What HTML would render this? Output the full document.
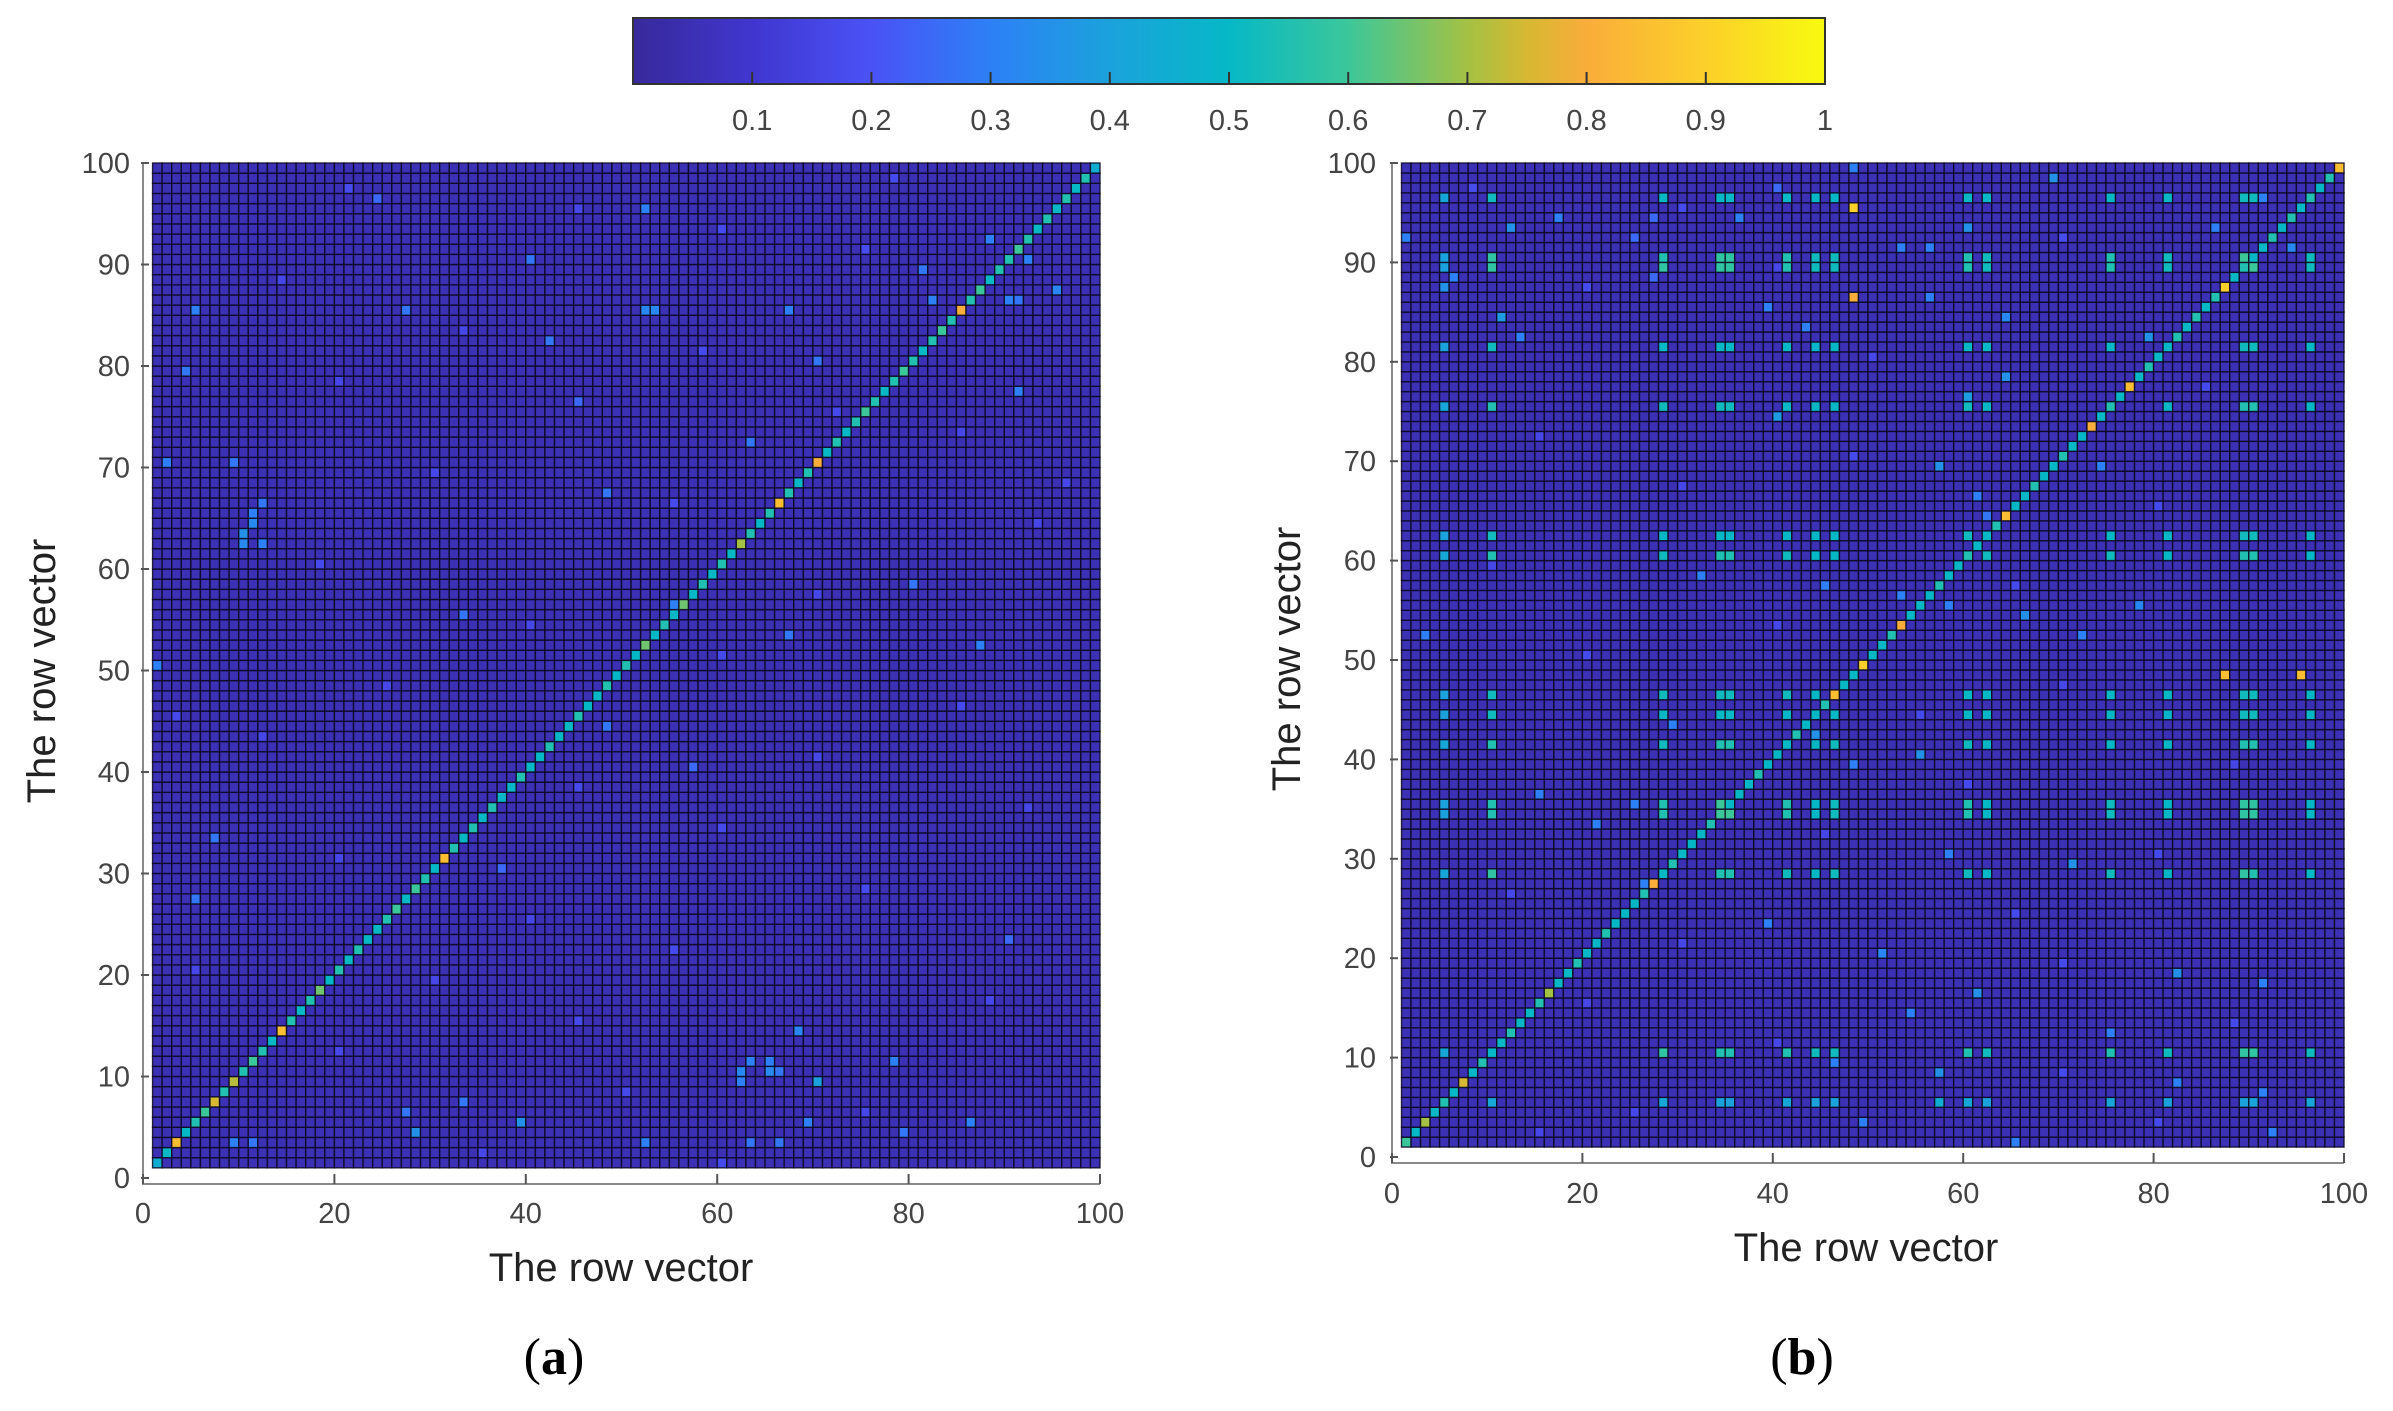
<!DOCTYPE html>
<html><head><meta charset="utf-8"><style>
html,body{margin:0;padding:0;background:#fff;}
svg{display:block;}
text{font-family:"Liberation Sans",Arial,sans-serif;}
</style></head><body>
<svg id="fig" width="2393" height="1411" viewBox="0 0 2393 1411" xmlns="http://www.w3.org/2000/svg">
<defs>
<linearGradient id="parula" x1="0" x2="1" y1="0" y2="0">
<stop offset="0" stop-color="#38299a"/><stop offset="0.1" stop-color="#4036cf"/><stop offset="0.2" stop-color="#4a52f5"/>
<stop offset="0.3" stop-color="#2d80f6"/><stop offset="0.4" stop-color="#1ba2dc"/><stop offset="0.5" stop-color="#06b8c6"/>
<stop offset="0.6" stop-color="#3cc79a"/><stop offset="0.7" stop-color="#a4c144"/><stop offset="0.75" stop-color="#d6b832"/>
<stop offset="0.8" stop-color="#f9ad3a"/><stop offset="0.9" stop-color="#fcd02a"/><stop offset="1" stop-color="#f8fa10"/>
</linearGradient>
</defs>
<g id="colorbar">
<rect x="633" y="18" width="1192" height="66" fill="url(#parula)" stroke="#333" stroke-width="2"/>
</g>
<g id="panelA"></g>
<g id="panelB"></g>
<text x="621" y="1281" font-size="40" fill="#222" text-anchor="middle">The row vector</text>
<text transform="translate(55,671) rotate(-90)" font-size="40" fill="#222" text-anchor="middle">The row vector</text>
<text x="1866" y="1261" font-size="40" fill="#222" text-anchor="middle">The row vector</text>
<text transform="translate(1300,659) rotate(-90)" font-size="40" fill="#222" text-anchor="middle">The row vector</text>
<text x="554" y="1374" font-size="52" fill="#000" text-anchor="middle" style="font-family:'Liberation Serif',serif">(<tspan font-weight="bold">a</tspan>)</text>
<text x="1802" y="1374" font-size="52" fill="#000" text-anchor="middle" style="font-family:'Liberation Serif',serif">(<tspan font-weight="bold">b</tspan>)</text>
</svg>
<script>
const cbTicks = [0.1,0.2,0.3,0.4,0.5,0.6,0.7,0.8,0.9,1];
const axisTicks = [0,20,40,60,80,100];
const yTicks = [0,10,20,30,40,50,60,70,80,90,100];
const baseValue = 0.05;
const diagA = [.45,.5,.85,.5,.55,.6,.75,.55,.72,.55, .6,.55,.5,.85,.55,.5,.55,.65,.5,.55,
 .5,.55,.5,.5,.55,.6,.5,.6,.55,.5, .85,.55,.5,.55,.5,.55,.5,.5,.55,.5,
 .5,.55,.5,.5,.55,.5,.5,.55,.5,.55, .5,.65,.5,.55,.5,.65,.5,.55,.5,.55,
 .5,.7,.55,.5,.55,.85,.55,.5,.55,.8, .5,.55,.5,.55,.6,.55,.5,.55,.6,.55,
 .5,.55,.6,.55,.8,.55,.6,.5,.55,.55, .6,.55,.5,.55,.5,.55,.5,.55,.45];
const diagB = [.6,.5,.7,.5,.55,.5,.75,.5,.55,.5, .5,.55,.5,.5,.55,.7,.5,.5,.55,.5,
 .5,.55,.5,.5,.5,.55,.8,.5,.55,.5, .5,.5,.55,.6,.5,.5,.5,.55,.5,.5,
 .5,.55,.5,.5,.55,.85,.5,.5,.9,.5, .5,.55,.8,.5,.5,.5,.55,.5,.5,.55,
 .5,.5,.55,.85,.5,.5,.55,.5,.5,.55, .5,.5,.8,.5,.55,.5,.85,.5,.55,.5,
 .5,.55,.5,.55,.5,.55,.9,.5,.55,.5, .5,.55,.5,.55,.5,.55,.5,.55,.85];
const scatterA = [[62,10,.33],[63,10,.35],[64,11,.33],[62,12,.3],[65,11,.3],[66,12,.28],
 [9,62,.3],[10,62,.32],[11,63,.3],[10,65,.33],[11,65,.3],[9,70,.4],[10,66,.28],
 [85,5,.3],[85,27,.28],[85,52,.32],[85,53,.32],[85,67,.3],[96,24,.25],[95,52,.3],[86,82,.3],
 [88,88,.3],[86,90,.3],[86,91,.28],[90,92,.3],[89,81,.28],[92,88,.3],[87,95,.32],[80,70,.28],
 [5,39,.35],[3,52,.3],[3,63,.28],[3,66,.28],[4,79,.28],[5,69,.3],[4,28,.35],[7,33,.28],[6,27,.28],
 [3,9,.3],[3,11,.28],[5,86,.3],[14,68,.32],[11,78,.3],[23,90,.25],[27,5,.28],[30,37,.25],[33,7,.28],
 [40,57,.25],[44,48,.28],[50,1,.3],[52,87,.3],[53,67,.28],[55,33,.28],[56,55,.3],[58,80,.28],
 [67,48,.28],[70,2,.3],[70,9,.28],[72,63,.28],[76,45,.25],[77,91,.3],[79,4,.28],[82,42,.28],[90,40,.28],
 [97,21,.18],[95,45,.16],[93,60,.17],[91,75,.18],[88,14,.16],[83,33,.16],[81,58,.17],[78,20,.16],
 [75,72,.17],[73,85,.16],[69,30,.16],[66,55,.17],[64,93,.16],[60,18,.17],[57,70,.16],[54,40,.16],
 [51,60,.17],[48,25,.16],[46,85,.17],[43,12,.16],[41,70,.16],[38,45,.17],[36,92,.16],[34,60,.17],
 [31,20,.16],[28,75,.17],[25,40,.16],[22,55,.17],[19,30,.16],[17,88,.16],[15,45,.17],[12,20,.16],
 [8,50,.17],[6,75,.16],[2,35,.16],[1,60,.17],[20,5,.16],[45,3,.17],[68,96,.16],[98,78,.17]];
const scatterB = [[95,48,.9],[86,48,.8],[48,87,.85],[48,95,.85],
 [93,12,.35],[92,1,.3],[88,6,.3],[87,5,.35],[84,11,.38],[82,13,.3],[92,25,.25],[94,17,.3],[94,27,.25],
 [94,36,.3],[93,60,.35],[91,53,.3],[91,56,.3],[88,27,.25],[86,56,.3],[85,39,.3],[84,64,.32],[83,43,.3],
 [82,79,.35],[78,64,.35],[76,60,.38],[74,40,.38],[69,57,.35],[69,74,.3],[66,61,.3],[64,62,.28],
 [58,32,.3],[57,45,.3],[56,53,.3],[55,58,.3],[54,66,.35],[52,72,.3],[52,3,.3],[55,78,.32],
 [43,29,.3],[42,44,.35],[40,55,.35],[39,48,.3],[38,38,.3],[36,15,.3],[35,25,.3],[33,21,.3],
 [30,58,.3],[29,71,.35],[27,26,.3],[23,39,.3],[20,51,.32],[16,61,.35],[14,54,.3],[12,75,.3],
 [9,46,.3],[8,57,.35],[7,82,.3],[6,91,.3],[5,57,.45],[5,62,.3],[3,49,.3],[2,92,.3],[1,65,.3],
 [98,69,.35],[99,48,.3],[97,40,.25],[96,91,.3],[93,86,.3],[91,94,.32],[18,82,.35],[17,91,.3],
 [97,8,.18],[95,30,.17],[92,70,.18],[89,40,.16],[87,20,.17],[80,50,.16],[77,85,.17],[72,15,.16],
 [70,48,.17],[67,30,.16],[65,80,.17],[59,10,.16],[57,65,.17],[53,40,.16],[50,20,.17],[47,70,.16],
 [44,55,.17],[39,88,.16],[37,60,.17],[32,45,.16],[30,80,.17],[26,12,.16],[24,65,.17],[21,30,.16],
 [19,70,.17],[15,20,.16],[13,88,.17],[11,40,.16],[8,70,.17],[4,25,.16],[3,80,.17],[2,15,.16]];
const sIdx = [5,10,28,34,35,41,44,46,60,62,75,81,89,90,96];
const sBlock = [
[0,.42,.42,.40,.40,.42,.40,.40,.42,.40,.42,.40,.40,.40,.42],
[.42,0,.58,.55,.55,.55,.52,.52,.55,.52,.55,.52,.58,.58,.52],
[.42,.58,0,.55,.55,.52,.5,.52,.52,.5,.52,.5,.58,.55,.5],
[.40,.55,.55,0,.6,.55,.5,.52,.55,.5,.52,.5,.58,.58,.5],
[.40,.55,.55,.6,0,.55,.5,.52,.55,.5,.52,.5,.58,.58,.5],
[.42,.55,.52,.55,.55,0,.5,.52,.52,.5,.5,.5,.55,.55,.5],
[.40,.52,.5,.5,.5,.5,0,.5,.5,.5,.5,.48,.52,.52,.5],
[.40,.52,.52,.52,.52,.52,.5,0,.5,.5,.5,.5,.52,.52,.5],
[.42,.55,.52,.55,.55,.52,.5,.5,0,.52,.52,.5,.55,.55,.5],
[.40,.52,.5,.5,.5,.5,.5,.5,.52,0,.5,.5,.52,.52,.5],
[.42,.55,.52,.52,.52,.5,.5,.5,.52,.5,0,.5,.55,.55,.5],
[.40,.52,.5,.5,.5,.5,.48,.5,.5,.5,.5,0,.52,.52,.5],
[.40,.58,.58,.58,.58,.55,.52,.52,.55,.52,.55,.52,0,.6,.52],
[.40,.58,.55,.58,.58,.55,.52,.52,.55,.52,.55,.52,.6,0,.52],
[.42,.52,.5,.5,.5,.5,.5,.5,.5,.5,.5,.5,.52,.52,0]];

const NS='http://www.w3.org/2000/svg';
const stops=[[0,[56,41,154]],[0.1,[64,54,207]],[0.2,[74,82,245]],[0.3,[45,128,246]],[0.4,[27,162,220]],[0.5,[6,184,198]],[0.6,[60,199,154]],[0.7,[164,193,68]],[0.75,[214,184,50]],[0.8,[249,173,58]],[0.9,[252,208,42]],[1,[248,250,16]]];
function cmap(v){v=Math.max(0,Math.min(1,v));for(let i=1;i<stops.length;i++){if(v<=stops[i][0]){const a=stops[i-1],b=stops[i],t=(v-a[0])/(b[0]-a[0]);const c=a[1].map((x,k)=>Math.round(x+(b[1][k]-x)*t));return 'rgb('+c.join(',')+')';}}return 'rgb(248,250,16)';}
function mk(tag,attrs,parent){const e=document.createElementNS(NS,tag);for(const k in attrs)e.setAttribute(k,attrs[k]);parent.appendChild(e);return e;}

function buildMatrix(diag,scatter,useS){
  const M=[];for(let r=0;r<100;r++){M.push(new Array(100).fill(baseValue));}
  scatter.forEach(s=>{M[s[0]][s[1]]=s[2];});
  if(useS){sIdx.forEach((ri,i)=>sIdx.forEach((ci,j)=>{if(sBlock[i][j]>0)M[ri][ci]=sBlock[i][j];}));}
  diag.forEach((v,i)=>{M[i+1][i+1]=v;});
  return M;
}
function drawPanel(g,M,x0,x1,y0,y1,tickRight,xLabY,key){
  const xs=v=>x0+(x1-x0)*v/100, ys=v=>y0-(y0-y1)*v/100;
  for(let r=1;r<=99;r++){for(let c=1;c<=99;c++){
    const rect=mk('rect',{x:xs(c),y:ys(r+1),width:xs(c+1)-xs(c),height:ys(r)-ys(r+1),fill:cmap(M[r][c]),stroke:'#0a0820','stroke-width':1.4,'stroke-opacity':0.85},g);
    
    
  }}
  const ax=mk('path',{d:`M${x0} ${y1} V${y0+6} H${x1}`,fill:'none',stroke:'#8a8a8a','stroke-width':2},g);
  
  
  axisTicks.forEach(t=>{
    const tk=mk('line',{x1:xs(t),x2:xs(t),y1:y0+6,y2:y0-4,stroke:'#555','stroke-width':2},g);
    
    
    const tl=mk('text',{x:xs(t),y:xLabY,'font-size':29,fill:'#444','text-anchor':'middle'},g);
    tl.textContent=t;
    
    
  });
  yTicks.forEach(t=>{
    const tk=mk('line',{x1:x0-2,x2:x0+6,y1:ys(t),y2:ys(t),stroke:'#555','stroke-width':2},g);
    
    
    const tl=mk('text',{x:tickRight,y:ys(t)+10,'font-size':29,fill:'#444','text-anchor':'end'},g);
    tl.textContent=t;
    
    
  });
}
drawPanel(document.getElementById('panelA'),buildMatrix(diagA,scatterA,false),143,1100,1178,163,130,1223,'a');
drawPanel(document.getElementById('panelB'),buildMatrix(diagB,scatterB,true),1392,2344,1157,163,1376,1203,'b');

const cb=document.getElementById('colorbar');
const cbx=v=>633+1192*v;
cbTicks.forEach(t=>{
  const tk=mk('line',{x1:cbx(t),x2:cbx(t),y1:84,y2:72,stroke:'#333','stroke-width':2},cb);
  
  
  const tl=mk('text',{x:cbx(t),y:130,'font-size':29,fill:'#444','text-anchor':'middle'},cb);
  tl.textContent=String(t);
  
  
});
</script>
</body></html>
